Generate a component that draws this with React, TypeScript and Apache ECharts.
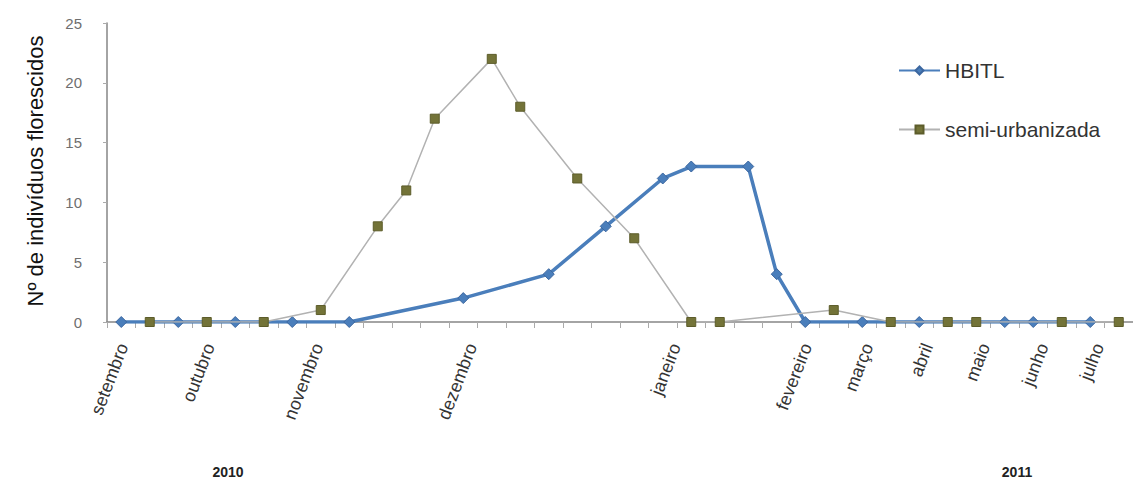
import React, { useEffect, useRef } from "react";
import * as echarts from "echarts";

// x positions are in "sample slot" units (one slot per census date)
const monthNames: string[] = [
  "setembro", "outubro", "novembro", "dezembro", "janeiro", "fevereiro",
  "março", "abril", "maio", "junho", "julho",
];
const monthPositions: number[] = [0.56, 3.6, 7.4, 12.8, 19.95, 24.55, 26.7, 28.8, 30.8, 32.85, 34.8];

const hbitlX: number[] = [0, 2, 4, 6, 8, 12, 15, 17, 19, 20, 22, 23, 24, 26, 28, 31, 32, 34];
const hbitlY: number[] = [0, 0, 0, 0, 0, 2, 4, 8, 12, 13, 13, 4, 0, 0, 0, 0, 0, 0];

const semiX: number[] = [1, 3, 5, 7, 9, 10, 11, 13, 14, 16, 18, 20, 21, 25, 27, 29, 30, 33, 35];
const semiY: number[] = [0, 0, 0, 1, 8, 11, 17, 22, 18, 12, 7, 0, 0, 1, 0, 0, 0, 0, 0];

const yearLabels = ["2010", "2011"];
const tickValues: number[] = Array.from({ length: 37 }, (_, i) => i);

export default function App() {
  const ref = useRef<HTMLDivElement>(null);
  useEffect(() => {
    if (!ref.current) return;
    const chart = echarts.init(ref.current, null, { renderer: "svg" });
    const axisGray = "#868686";
    const font = "Liberation Sans, Arial, sans-serif";
    const nameAt = (v: number) => {
      for (let i = 0; i < monthPositions.length; i++) {
        if (Math.abs(monthPositions[i] - v) < 1e-6) return monthNames[i];
      }
      return "";
    };
    chart.setOption({
      animation: false,
      backgroundColor: "#ffffff",
      grid: { left: 107, right: -7, top: 23, bottom: 163, containLabel: false },
      legend: {
        orient: "vertical",
        left: 893,
        top: 55,
        itemWidth: 41,
        itemHeight: 10,
        itemGap: 38,
        textStyle: { fontFamily: font, fontSize: 21, color: "#333333" },
        data: ["HBITL", "semi-urbanizada"],
      },
      xAxis: {
        type: "value",
        min: 0,
        max: 36,
        axisLine: { show: true, onZero: false, lineStyle: { color: axisGray, width: 1.5 } },
        axisTick: { show: true, customValues: tickValues, length: 6, lineStyle: { color: "#aaaaaa" } },
        axisLabel: {
          customValues: monthPositions,
          formatter: (v: number) => nameAt(v),
          rotate: 69,
          margin: 22,
          fontFamily: font,
          fontSize: 18,
          color: "#333333",
        },
        splitLine: { show: false },
      },
      yAxis: {
        type: "value",
        min: 0,
        max: 25,
        interval: 5,
        axisLine: { show: true, lineStyle: { color: axisGray, width: 1.5 } },
        axisTick: { show: true, length: 4, lineStyle: { color: "#aaaaaa" } },
        axisLabel: {
          margin: 25,
          fontFamily: font,
          fontSize: 15,
          color: "#6e6e6e",
        },
        splitLine: { show: false },
      },
      graphic: [
        {
          type: "text",
          x: 35,
          y: 171,
          rotation: Math.PI / 2,
          style: {
            text: "Nº de indivíduos florescidos",
            fontFamily: font,
            fontSize: 22,
            fill: "#111111",
            textAlign: "center",
            textVerticalAlign: "middle",
          },
        },
        {
          type: "text",
          x: 228,
          y: 472,
          style: {
            text: yearLabels[0],
            fontFamily: "Liberation Sans Narrow, Arial Narrow, Liberation Sans, sans-serif",
            fontWeight: "bold",
            fontSize: 14,
            fill: "#222222",
            textAlign: "center",
            textVerticalAlign: "middle",
          },
        },
        {
          type: "text",
          x: 1017,
          y: 472,
          style: {
            text: yearLabels[1],
            fontFamily: "Liberation Sans Narrow, Arial Narrow, Liberation Sans, sans-serif",
            fontWeight: "bold",
            fontSize: 14,
            fill: "#222222",
            textAlign: "center",
            textVerticalAlign: "middle",
          },
        },
      ],
      series: [
        {
          name: "HBITL",
          type: "line",
          data: hbitlX.map((x, i) => [x + 0.5, hbitlY[i]]),
          symbol: "diamond",
          symbolSize: 11,
          showAllSymbol: true,
          lineStyle: { color: "#4a7ebb", width: 3.5 },
          itemStyle: { color: "#4a7ebb", borderColor: "#3c67a0", borderWidth: 1 },
          z: 2,
        },
        {
          name: "semi-urbanizada",
          type: "line",
          data: semiX.map((x, i) => [x + 0.5, semiY[i]]),
          symbol: "rect",
          symbolSize: 9,
          showAllSymbol: true,
          lineStyle: { color: "#b2b2b2", width: 1.5 },
          itemStyle: { color: "#737338", borderColor: "#5c5c2a", borderWidth: 1 },
          z: 3,
        },
      ],
    });
    return () => chart.dispose();
  }, []);
  return (
    <div
      ref={ref}
      style={{ position: "absolute", left: 0, top: 0, width: 1133, height: 485 }}
    />
  );
}
